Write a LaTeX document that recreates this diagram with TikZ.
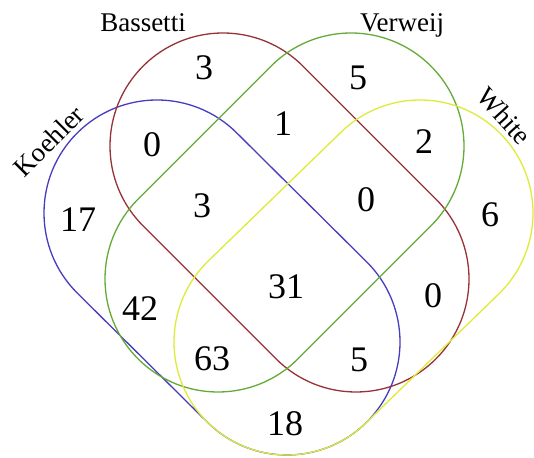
\documentclass[tikz,border=0pt]{standalone}
\usepackage{fontspec}
\setmainfont{Liberation Serif}
\definecolor{kblue}{RGB}{70,60,190}
\definecolor{bred}{RGB}{150,50,55}
\definecolor{vgreen}{RGB}{100,170,55}
\definecolor{wyellow}{RGB}{222,235,55}
\tikzset{
  setline/.style={line width=1.3pt},
  num/.style={font=\fontsize{36}{36}\selectfont, inner sep=0pt},
  lab/.style={font=\fontsize{27}{27}\selectfont, inner sep=0pt},
}
\begin{document}
\begin{tikzpicture}[x=1pt,y=1pt]
\useasboundingbox (0,0) rectangle (534,457);
\def\r{113}
% Koehler (blue): upper centre (157,244), lower centre (287,115)
\draw[setline,kblue] (157,244) ++(45:\r) arc[start angle=45,end angle=225,radius=\r]
  -- ++(130,-129) arc[start angle=225,end angle=405,radius=\r] -- cycle;
% Bassetti (red): upper (223,311), lower (356,178)
\draw[setline,bred] (223,311) ++(45:\r) arc[start angle=45,end angle=225,radius=\r]
  -- ++(133,-133) arc[start angle=225,end angle=405,radius=\r] -- cycle;
% Verweij (green): upper (351,311), lower (218,178)
\draw[setline,vgreen] (351,311) ++(135:\r) arc[start angle=135,end angle=-45,radius=\r]
  -- ++(-133,-133) arc[start angle=-45,end angle=-225,radius=\r] -- cycle;
% White (yellow): upper (420,244), lower (287,115)
\draw[setline,wyellow] (420,244) ++(135:\r) arc[start angle=135,end angle=-45,radius=\r]
  -- ++(-133,-129) arc[start angle=-45,end angle=-225,radius=\r] -- cycle;
% labels
\node[lab,anchor=base] (lb) at (143,425) {Bassetti};
\node[lab,anchor=base] (lv) at (402,425) {Verweij};
\node[lab,rotate=45] (lk) at (49,316) {Koehler};
\node[lab,rotate=-48] (lw) at (504,341) {White};
% numbers
\node[num] (n1) at (204,389) {3};
\node[num] (n2) at (358,379) {5};
\node[num] (n3) at (283,333) {1};
\node[num] (n4) at (152,312) {0};
\node[num] (n5) at (424,315) {2};
\node[num] (n6) at (78,237) {17};
\node[num] (n7) at (202,251) {3};
\node[num] (n8) at (366,257) {0};
\node[num] (n9) at (490,242) {6};
\node[num] (n10) at (286,170) {31};
\node[num] (n11) at (140,148) {42};
\node[num] (n12) at (433,161) {0};
\node[num] (n13) at (212,98) {63};
\node[num] (n14) at (359,97) {5};
\node[num] (n15) at (285,33) {18};
\end{tikzpicture}
\end{document}
